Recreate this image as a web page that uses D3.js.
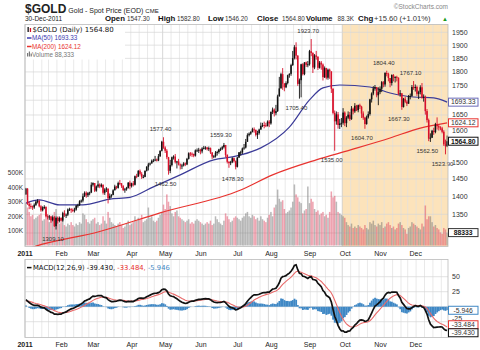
<!DOCTYPE html>
<html>
<head>
<meta charset="utf-8">
<script src="https://cdn.jsdelivr.net/npm/d3@7"></script>
<style>
body { margin: 0; background: #fff; }
svg { display: block; }
</style>
</head>
<body>
<div class="container"></div>
<script>
const W = 480, H = 350

// ---- chart data ----
const holidays = ["2011-01-17","2011-02-21","2011-04-22","2011-05-30","2011-07-04","2011-09-05","2011-11-24","2011-12-26"]
const monthLabels = ["2011","Feb","Mar","Apr","May","Jun","Jul","Aug","Sep","Oct","Nov","Dec"]

const firstOpen = 1405
const close = [
  1422,1379,1373,1372,1369,1376,1385,1387,1372,1361,1369,1370,1345,1342,1344,1334,1342,1318,1340,1332, // jan
  1340,1333,1353,1348,1349,1363,1364,1362,1360,1363,1374,1375,1386,1388,1400,1410,1403,1409,1411, // feb
  1433,1438,1416,1428,1434,1428,1433,1410,1419,1422,1395,1401,1404,1417,1428,1424,1438,1437,1429,1418,1420,1424,1439, // mar
  1429,1437,1433,1458,1457,1474,1465,1456,1456,1474,1486,1493,1496,1504,1505,1508,1505,1518,1535,1563, // apr
  1545,1535,1515,1474,1491,1515,1517,1500,1502,1493,1490,1490,1496,1493,1510,1527,1526,1525,1520,1536,1536, // may
  1538,1533,1542,1544,1545,1540,1543,1530,1517,1518,1529,1531,1539,1541,1546,1553,1522,1501,1497,1500,1512,1503, // jun
  1486,1514,1530,1530,1542,1545,1563,1584,1589,1594,1603,1601,1585,1591,1602,1614,1617,1616,1614,1628, // jul
  1622,1660,1668,1656,1663,1713,1741,1792,1758,1745,1760,1788,1793,1825,1851,1892,1860,1757,1770,1828,1792,1835,1826, // aug
  1828,1877,1870,1816,1861,1856,1815,1834,1827,1781,1814,1779,1808,1802,1740,1657,1629,1652,1617,1622,1624, // sep
  1658,1623,1641,1651,1636,1671,1662,1681,1666,1683,1678,1655,1641,1620,1642,1653,1703,1723,1741,1746,1717, // oct
  1728,1740,1763,1755,1796,1793,1778,1760,1789,1779,1782,1779,1722,1724,1677,1705,1695,1688,1714,1715,1746, // nov
  1745,1746,1722,1728,1745,1710,1712,1663,1633,1573,1576,1598,1594,1619,1613,1609,1606,1595,1555,1549.2,1564.8 // dec
]
const high = [
  1424,1423,1385,1380,1374,1380,1388,1392,1390,1375,1372,1375,1372,1350,1348,1346,1347,1345,1344,1343,
  1344,1342,1357,1361,1352,1366,1368,1367,1366,1368,1376,1379,1389,1391,1408,1414,1414,1412,1413,
  1440,1440,1437,1431,1445,1437,1437,1434,1423,1426,1421,1408,1406,1420,1433,1430,1442,1447,1438,1432,1424,1427,1441,
  1445,1439,1444,1460,1465,1476,1478,1470,1462,1475,1488,1498,1499,1508,1510,1519,1511,1525,1536,1566,
  1577.4,1549,1540,1516,1507,1517,1521,1525,1504,1510,1496,1495,1500,1499,1513,1530,1531,1530,1526,1539,1542,
  1544,1541,1546,1550,1549,1547,1548,1545,1530,1522,1534,1535,1541,1545,1550,1559.3,1552,1524,1503,1504,1515,1514,
  1505,1516,1531,1535,1545,1556,1572,1590,1593,1597,1608,1609,1602,1598,1605,1625,1624,1628,1624,1632,
  1633,1662,1675,1672,1684,1719,1782,1797,1814,1760,1766,1790,1795,1830,1878,1900,1911,1862,1776,1830,1832,1836,1838,
  1840,1882,1923.7,1873,1866,1878,1858,1840,1840,1831,1820,1815,1812,1812,1798,1741,1665,1662,1660,1637,1640,
  1673,1662,1646,1662,1660,1680,1675,1690,1684,1685,1688,1681,1662,1644,1648,1662,1705,1727,1749,1753,1746,
  1745,1748,1767,1767,1799,1804.4,1797,1776,1791,1792,1784,1786,1780,1735,1723,1708,1712,1700,1718,1723,1753,
  1767.1,1755,1751,1733,1752,1760,1720,1716,1670,1638,1590,1601,1608,1624,1642,1619,1613,1611,1600,1570,1582.8
]
const low = [
  1410,1376,1364,1365,1362,1365,1373,1380,1369,1357,1358,1364,1342,1336,1335,1327,1331,1316,1309.1,1325,
  1328,1330,1330,1343,1340,1345,1359,1354,1356,1355,1360,1368,1373,1382,1383,1398,1396,1398,1403,
  1409,1428,1412,1413,1424,1423,1425,1405,1404,1412,1380,1391,1396,1403,1417,1420,1422,1432,1424,1415,1410,1416,1422,
  1420,1425,1428,1431,1452,1456,1460,1450,1452,1455,1472,1475,1490,1496,1500,1503,1502,1503,1516,1533,
  1541,1528,1509,1462.5,1467,1487,1508,1496,1481,1490,1478,1479,1487,1488,1491,1508,1518,1516,1515,1517,1532,
  1528,1524,1527,1539,1538,1536,1534,1525,1510,1512,1514,1520,1526,1534,1537,1542,1515,1496,1483,1491,1497,1499,
  1478.3,1484,1513,1520,1525,1538,1542,1564,1580,1585,1593,1592,1580,1572,1586,1603,1610,1606,1610,1612,
  1610,1618,1653,1645,1649,1660,1720,1742,1736,1731,1742,1755,1779,1786,1822,1846,1846,1750,1705.4,1710,1787,1788,1818,
  1817,1823,1858,1796,1810,1845,1807,1812,1808,1769,1778,1773,1772,1775,1725,1652,1535,1618,1605,1604,1610,
  1618,1613,1610,1636,1630,1634,1652,1657,1663,1659,1670,1640,1634,1604.7,1618,1638,1648,1692,1717,1733,1710,
  1683,1721,1728,1745,1747,1784,1766,1745,1751,1766,1762,1766,1717,1712,1667.3,1675,1690,1680,1688,1703,1712,
  1736,1730,1715,1704,1720,1705,1695,1651,1625,1565,1562.5,1575,1585,1590,1602,1599,1600,1590,1550,1523.9,1546.2
]
// volume in thousands
const volume = [
  290,260,230,200,210,180,190,200,210,220,170,180,230,200,160,180,190,230,250,200,
  150,160,170,140,130,150,140,160,140,130,150,140,160,150,220,210,180,160,150,
  170,180,190,150,160,140,150,200,170,150,230,190,160,150,140,130,150,160,140,120,130,150,170,
  140,150,160,200,170,190,180,210,160,170,180,260,190,200,170,160,170,190,210,230,
  280,250,350,300,270,220,200,230,240,200,190,180,170,160,170,180,150,160,150,170,180,
  170,160,150,140,150,160,150,170,140,150,200,180,160,150,140,170,220,200,180,160,170,190,
  200,190,180,170,190,200,220,230,200,190,210,200,180,190,170,200,180,170,160,190,
  210,230,200,260,280,383,320,300,310,250,220,230,240,260,300,418,350,330,300,290,220,240,250,
  404,290,320,300,250,230,240,210,220,230,200,210,190,230,370,330,340,300,230,220,210,
  200,190,160,140,130,150,120,130,120,140,130,120,110,140,120,110,160,150,170,140,130,
  150,140,160,120,130,150,160,140,120,130,110,120,150,160,140,120,110,80,120,130,160,
  150,140,130,120,110,150,130,274,180,200,200,160,130,140,120,110,90,80,120,110,88.3
]

// moving averages, read at a few trading days
const ma50Day = [0, 8, 20, 34, 50, 62, 76, 92, 112, 123, 128, 140, 157, 169, 177, 187, 205, 217, 231, 243, 251]
const ma50Val = [1381, 1390, 1376, 1376, 1392, 1397, 1427, 1462, 1507, 1516, 1522, 1544, 1610, 1701, 1743, 1753, 1746, 1725, 1711, 1708, 1693.33]
const ma200Day = [0, 6, 44, 80, 128, 147, 173, 193, 217, 235, 251]
const ma200Val = [1258, 1266, 1304, 1354, 1418, 1462, 1507, 1537, 1575, 1607, 1624.12]

// labelled highs / lows
const markDay = [18, 82, 85, 118, 125, 163, 170, 184, 202, 215, 224, 231, 241, 250]
const markSide = ["low","high","low","high","low","low","high","low","low","high","low","high","low","low"]

const priceTicks = [1300, 1350, 1400, 1450, 1500, 1550, 1600, 1650, 1700, 1750, 1800, 1850, 1900, 1950]
const volTicks = [100, 200, 300, 400, 500]
const macdTicks = [-25, 0, 25, 50]
const macdSeed = [1392, 1382, 9] // ema12, ema26, signal carried in from 2010

const last = { close: "1564.80", ma50: 1693.33, ma200: 1624.12, vol: 88.333,
  macd: -39.430, signal: -33.484, hist: -5.946 }

// ---- layout ----
const left = 25, right = 448
const mainTop = 24.5, mainBot = 246.5
const macdTop = 259.5, macdBot = 337.5

const fmt = d3.timeFormat("%Y-%m-%d")
const days = d3.timeDay.range(new Date(2011, 0, 1), new Date(2012, 0, 1))
  .filter(d => d.getDay() > 0 && d.getDay() < 6 && !holidays.includes(fmt(d)))

const x = d3.scaleLinear().domain([-0.5, close.length - 0.5]).range([left, right])
const step = x(1) - x(0)
const y = d3.scaleLog().domain([1350, 1950]).range([214.3, 32.3])
const yv = d3.scaleLinear().domain([0, 500]).range([245.5, 172.5])
const ym = d3.scaleLinear().domain([-25, 50]).range([321.7, 276.7])

const weekStarts = days.map((d, i) => i).filter(i => i === 0 || days[i].getDay() < days[i - 1].getDay())
const monthStarts = days.map((d, i) => i).filter(i => i === 0 || days[i].getMonth() !== days[i - 1].getMonth())

const svgC = d3.select(".container").append("svg")
  .attr("width", W).attr("height", H)
  .style("font-family", "Arial, 'Liberation Sans', sans-serif")

const defs = svgC.append("defs")
defs.append("clipPath").attr("id", "clipMain").append("rect")
  .attr("x", left).attr("y", mainTop).attr("width", right - left).attr("height", mainBot - mainTop)
defs.append("clipPath").attr("id", "clipMacd").append("rect")
  .attr("x", left).attr("y", macdTop).attr("width", right - left).attr("height", macdBot - macdTop)

// ---- header ----
const head = svgC.append("text").attr("x", 25).attr("y", 13).attr("fill", "#222")
head.append("tspan").text("$GOLD").attr("font-weight", "bold").attr("font-size", 12)
  .attr("font-family", "'Liberation Sans Narrow', Arial, sans-serif")
head.append("tspan").text(" Gold - Spot Price (EOD) ").attr("font-size", 7)
head.append("tspan").text("CME").attr("font-size", 6)

svgC.append("text").attr("x", 448).attr("y", 9).attr("text-anchor", "end")
  .attr("font-size", 6.5).attr("fill", "#888").text("\u00a9StockCharts.com")

svgC.append("text").attr("x", 25).attr("y", 21).attr("font-size", 6.5).attr("fill", "#222").text("30-Dec-2011")

const quote = [
  ["Open", 105, "1547.30", 127], ["High", 158, "1582.80", 177], ["Low", 208, "1546.20", 225],
  ["Close", 257, "1564.80", 282], ["Volume", 306, "88.3K", 337.5], ["Chg", 358, "+15.60 (+1.01%)", 374]
]
quote.forEach(q => {
  svgC.append("text").attr("x", q[1]).attr("y", 21).attr("font-size", q[0] === "Volume" ? 7.5 : 7.8)
    .attr("font-weight", "bold").attr("fill", "#111").text(q[0])
  svgC.append("text").attr("x", q[3]).attr("y", 21).attr("font-size", q[0] === "Chg" ? 7.6 : 6.3)
    .attr("fill", "#333").text(q[2])
})
svgC.append("text").attr("x", 442).attr("y", 21).attr("font-size", 6).attr("fill", "#1a9a1a").text("\u25b2")

// ---- main panel ----
const main = svgC.append("g")
main.append("rect").attr("x", left).attr("y", mainTop).attr("width", right - left)
  .attr("height", mainBot - mainTop).attr("fill", "#fff")
main.append("rect").attr("x", x(monthStarts[9] - 0.5)).attr("y", mainTop)
  .attr("width", right - x(monthStarts[9] - 0.5)).attr("height", mainBot - mainTop).attr("fill", "#fce3bb")

function vGrid(g, top, bot) {
  g.selectAll(".wk").data(weekStarts).enter().append("line")
    .attr("x1", d => x(d - 0.5)).attr("x2", d => x(d - 0.5)).attr("y1", top).attr("y2", bot)
    .attr("stroke", d => monthStarts.includes(d) ? "#c6c6c6" : "#dfdfdf").attr("stroke-width", 0.7)
}
vGrid(main, mainTop, mainBot)
main.selectAll(".hg").data(priceTicks).enter().append("line")
  .attr("x1", left).attr("x2", right).attr("y1", d => y(d)).attr("y2", d => y(d))
  .attr("stroke", "#d6d6d6").attr("stroke-width", 0.7)

const plot = main.append("g").attr("clip-path", "url(#clipMain)")

// volume
plot.selectAll(".vol").data(volume).enter().append("rect")
  .attr("x", (d, i) => x(i) - step * 0.45).attr("width", step * 0.9)
  .attr("y", d => yv(d)).attr("height", d => yv(0) - yv(d))
  .attr("fill", (d, i) => (i > 0 && close[i] < close[i - 1]) ? "rgba(222,70,95,0.5)" : "rgba(115,115,115,0.5)")

// moving averages
const maLine = d3.line().x(d => x(d[0])).y(d => y(d[1])).curve(d3.curveMonotoneX)
plot.append("path").datum(ma200Day.map((d, i) => [d, ma200Val[i]]))
  .attr("d", maLine).attr("fill", "none").attr("stroke", "#e8332f").attr("stroke-width", 1.2)
plot.append("path").datum(ma50Day.map((d, i) => [d, ma50Val[i]]))
  .attr("d", maLine).attr("fill", "none").attr("stroke", "#3b3b98").attr("stroke-width", 1.2)

// candles
const candles = close.map((c, i) => {
  const o = i === 0 ? firstOpen : close[i - 1]
  return { i, o, c, h: Math.max(high[i], o, c), l: Math.min(low[i], o, c), down: c < o }
})
const cg = plot.selectAll(".cdl").data(candles).enter().append("g")
cg.append("line").attr("x1", d => x(d.i)).attr("x2", d => x(d.i))
  .attr("y1", d => y(d.h)).attr("y2", d => y(d.l))
  .attr("stroke", d => d.down ? "#d8102a" : "#111").attr("stroke-width", 0.9)
cg.append("rect").attr("x", d => x(d.i) - step * 0.46).attr("width", step * 0.92)
  .attr("y", d => y(Math.max(d.o, d.c))).attr("height", d => Math.max(1, Math.abs(y(d.o) - y(d.c))))
  .attr("fill", d => d.down ? "#d8102a" : "#111")

// high / low labels
main.selectAll(".mk").data(markDay).enter().append("text")
  .attr("x", d => x(d) - 3)
  .attr("y", (d, k) => markSide[k] === "high" ? y(high[d]) - 6 : y(low[d]) + 11.5)
  .attr("text-anchor", "middle").attr("font-size", 6).attr("fill", "#333")
  .text((d, k) => (markSide[k] === "high" ? high[d] : low[d]).toFixed(2))

main.append("rect").attr("x", left).attr("y", mainTop).attr("width", right - left)
  .attr("height", mainBot - mainTop).attr("fill", "none").attr("stroke", "#bbb").attr("stroke-width", 0.8)

// legend
const leg = main.append("g")
leg.append("rect").attr("x", 26).attr("y", 25.5).attr("width", 99).attr("height", 34).attr("fill", "#fff")
leg.append("rect").attr("x", 27.5).attr("y", 27).attr("width", 1.3).attr("height", 5).attr("fill", "#111")
leg.append("rect").attr("x", 29.8).attr("y", 28).attr("width", 1.3).attr("height", 4).attr("fill", "#d8102a")
leg.append("text").attr("x", 32.5).attr("y", 32).attr("font-size", 7)
  .attr("font-family", "'DejaVu Sans', sans-serif").attr("fill", "#111").text("$GOLD (Daily) " + last.close)
const legRows = [
  ["MA(50) " + last.ma50.toFixed(2), "#3b3bb0", 40],
  ["MA(200) " + last.ma200.toFixed(2), "#e8332f", 48.5]
]
legRows.forEach(r => {
  leg.append("line").attr("x1", 27).attr("x2", 31.5).attr("y1", r[2] - 2).attr("y2", r[2] - 2)
    .attr("stroke", r[1]).attr("stroke-width", 1.5)
  leg.append("text").attr("x", 32).attr("y", r[2]).attr("font-size", 6.3).attr("fill", r[1]).text(r[0])
})
leg.append("rect").attr("x", 27).attr("y", 53).attr("width", 1.2).attr("height", 3.5).attr("fill", "#777")
leg.append("rect").attr("x", 28.8).attr("y", 51.5).attr("width", 1.2).attr("height", 5).attr("fill", "#777")
leg.append("rect").attr("x", 30.6).attr("y", 53.5).attr("width", 1.2).attr("height", 3).attr("fill", "#777")
leg.append("text").attr("x", 32).attr("y", 57).attr("font-size", 6.3).attr("fill", "#777")
  .text("Volume " + d3.format(",")(Math.round(last.vol * 1000)))

// right axis and value boxes
const boxes = [
  { v: y(last.ma50), t: last.ma50.toFixed(2), c: "#6a6ab8", b: false },
  { v: y(last.ma200), t: last.ma200.toFixed(2), c: "#e8332f", b: false },
  { v: y(+last.close), t: last.close, c: "#111", b: true },
  { v: yv(last.vol), t: d3.format("d")(Math.round(last.vol * 1000)), c: "#333", b: true }
]
svgC.selectAll(".pt").data(priceTicks.filter(p => boxes.every(b => Math.abs(y(p) - b.v) > 6))).enter()
  .append("text").attr("x", 452).attr("y", d => y(d) + 2.5).attr("font-size", 7).attr("fill", "#333").text(d => d)
svgC.selectAll(".vt").data(volTicks).enter().append("text")
  .attr("x", 23).attr("y", d => yv(d) + 2.5).attr("text-anchor", "end").attr("font-size", 6.5)
  .attr("fill", "#333").text(d => d + "K")

function valueBox(b) {
  svgC.append("rect").attr("x", 448.5).attr("y", b.v - 4).attr("width", 29.5).attr("height", 8)
    .attr("fill", "#fff").attr("stroke", b.c).attr("stroke-width", 1)
  svgC.append("text").attr("x", 463.2).attr("y", b.v + 2.3).attr("text-anchor", "middle")
    .attr("font-size", 6.8).attr("font-weight", b.b ? "bold" : "normal").attr("fill", b.b ? "#111" : "#333").text(b.t)
}
boxes.forEach(valueBox)

// month labels
function monthAxis(yy) {
  svgC.selectAll(null).data(monthStarts).enter().append("text")
    .attr("x", (d, k) => k === 0 ? x(-0.5) : x(d - 0.5) + 3).attr("y", yy)
    .attr("text-anchor", "middle").attr("font-size", 7)
    .attr("font-weight", (d, k) => k === 0 ? "bold" : "normal").attr("fill", "#222")
    .text((d, k) => monthLabels[k])
}
monthAxis(255.5)

// ---- MACD panel ----
let e12 = macdSeed[0], e26 = macdSeed[1], sig = macdSeed[2]
const macd = close.map(c => {
  e12 += (c - e12) * 2 / 13
  e26 += (c - e26) * 2 / 27
  const m = e12 - e26
  sig += (m - sig) * 2 / 10
  return { m, s: sig, h: m - sig }
})

const mp = svgC.append("g")
mp.append("rect").attr("x", left).attr("y", macdTop).attr("width", right - left)
  .attr("height", macdBot - macdTop).attr("fill", "#fff")
vGrid(mp, macdTop, macdBot)
mp.selectAll(".mg").data(macdTicks).enter().append("line")
  .attr("x1", left).attr("x2", right).attr("y1", d => ym(d)).attr("y2", d => ym(d))
  .attr("stroke", "#d6d6d6").attr("stroke-width", 0.7)
const mplot = mp.append("g").attr("clip-path", "url(#clipMacd)")
mplot.selectAll(".hist").data(macd).enter().append("rect")
  .attr("x", (d, i) => x(i) - step / 2).attr("width", step + 0.15)
  .attr("y", d => Math.min(ym(0), ym(d.h))).attr("height", d => Math.abs(ym(d.h) - ym(0)))
  .attr("fill", "#3f88c5")
const mline = key => d3.line().x((d, i) => x(i)).y(d => ym(d[key]))
mplot.append("path").datum(macd).attr("d", mline("s")).attr("fill", "none")
  .attr("stroke", "#e86a6a").attr("stroke-width", 1.1)
mplot.append("path").datum(macd).attr("d", mline("m")).attr("fill", "none")
  .attr("stroke", "#111").attr("stroke-width", 1.7)
mp.append("rect").attr("x", left).attr("y", macdTop).attr("width", right - left)
  .attr("height", macdBot - macdTop).attr("fill", "none").attr("stroke", "#bbb").attr("stroke-width", 0.8)

const ml = mp.append("text").attr("x", 33).attr("y", 270).attr("font-size", 6.8)
  .attr("font-family", "'DejaVu Sans', sans-serif")
mp.append("line").attr("x1", 27).attr("x2", 31.5).attr("y1", 267.6).attr("y2", 267.6)
  .attr("stroke", "#111").attr("stroke-width", 1.5)
ml.append("tspan").attr("fill", "#111").text("MACD(12,26,9) " + last.macd.toFixed(3) + ", ")
ml.append("tspan").attr("fill", "#e8332f").text(last.signal.toFixed(3) + ", ")
ml.append("tspan").attr("fill", "#3f88c5").text(last.hist.toFixed(3))

// right labels; the two lowest value boxes are stacked so they stay readable
svgC.selectAll(".mt").data(macdTicks.filter(t => t !== 0)).enter().append("text")
  .attr("x", 452).attr("y", d => ym(d) + (d < 0 ? -1.2 : 2.5)).attr("font-size", 7).attr("fill", "#333").text(d => d)
valueBox({ v: ym(last.hist), t: last.hist.toFixed(3), c: "#3f88c5", b: false })
valueBox({ v: ym(last.macd) - 5.6, t: last.signal.toFixed(3), c: "#e8332f", b: false })
valueBox({ v: ym(last.macd) + 2.4, t: last.macd.toFixed(3), c: "#111", b: false })

monthAxis(346.5)
</script>
</body>
</html>
